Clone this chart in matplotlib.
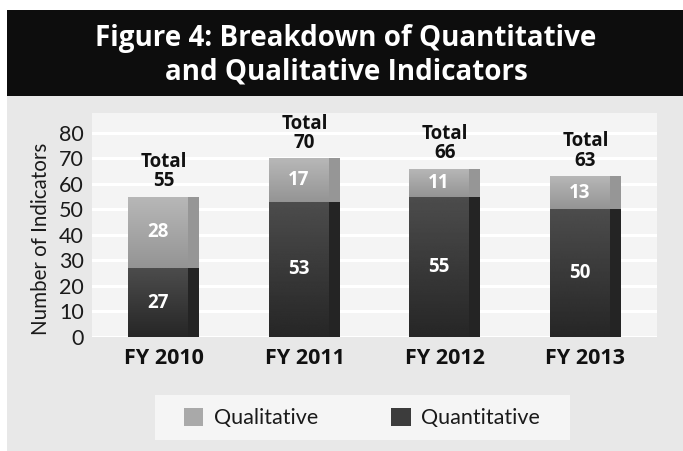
import matplotlib.pyplot as plt
from matplotlib.patches import Rectangle
import numpy as np

# ---------- data ----------
years = ["FY 2010", "FY 2011", "FY 2012", "FY 2013"]
quantitative = [27, 53, 55, 50]
qualitative = [28, 17, 11, 13]
totals = [55, 70, 66, 63]
yticks = [0, 10, 20, 30, 40, 50, 60, 70, 80]

plt.rcParams['font.family'] = ['Open Sans', 'DejaVu Sans']
light_font = ["Lato", "DejaVu Sans"]

W, H = 683, 451
fig = plt.figure(figsize=(W / 100, H / 100), dpi=100)
fig.patch.set_facecolor("white")

# background panels
fig.patches.append(Rectangle((7 / W, 0), 1 - 7 / W, 1 - 96 / H,
                             transform=fig.transFigure, facecolor="#e8e8e8",
                             edgecolor="none", zorder=-2))
fig.patches.append(Rectangle((7 / W, 1 - 96 / H), 1 - 7 / W, 86 / H,
                             transform=fig.transFigure, facecolor="#0d0d0d",
                             edgecolor="none", zorder=-2))
# legend box
fig.patches.append(Rectangle((155 / W, 1 - 440 / H), 415 / W, 45 / H,
                             transform=fig.transFigure, facecolor="#f5f5f5",
                             edgecolor="none", zorder=-1))
fig.text(346 / W, 1 - 55 / H,
         "Figure 4: Breakdown of Quantitative\nand Qualitative Indicators",
         ha="center", va="center", color="white", fontsize=20,
         fontweight="bold", linespacing=1.2)

ax = fig.add_axes([92 / W, 1 - 337 / H, (657 - 92) / W, (337 - 113) / H])
ax.set_facecolor("#f4f4f4")
ax.yaxis.grid(True, color="white", linewidth=2.2)
ax.set_axisbelow(True)
for s in ax.spines.values():
    s.set_visible(False)
ax.tick_params(length=0)

x = np.arange(len(years))
w = 0.505
strip = 0.085

q_main = ax.bar(x, quantitative, w, color="#3c3c3c", label="Quantitative")
ax.bar(x + w / 2 - strip, quantitative, strip, align="edge", color="#242424")
l_main = ax.bar(x, qualitative, w, bottom=quantitative, color="#a9a9a9",
                label="Qualitative")
ax.bar(x + w / 2 - strip, qualitative, strip, bottom=quantitative,
       align="edge", color="#969696")

# gradient shading on each bar
grad = np.linspace(0, 1, 256).reshape(-1, 1)
for bars, c_top, c_bot in [(q_main, 0.30, 0.15), (l_main, 0.72, 0.58)]:
    for p in bars:
        bx, by = p.get_x(), p.get_y()
        bw, bh = p.get_width() - strip, p.get_height()
        vals = c_bot + (c_top - c_bot) * grad
        im = ax.imshow(vals, cmap="gray", vmin=0, vmax=1, aspect="auto",
                       extent=(bx, bx + bw, by, by + bh), origin="lower",
                       zorder=2.1)
        im.set_clip_path(p)
ax.set_xlim(-0.512, 3.509)
ax.set_ylim(0, 87.8)
ax.set_yticks(yticks)

cx = x - strip / 2
for i in range(len(years)):
    ax.text(cx[i], quantitative[i] / 2, str(quantitative[i]), ha="center",
            va="center", color="white", fontsize=13.5, fontweight="bold", zorder=3)
    ax.text(cx[i], quantitative[i] + qualitative[i] / 2, str(qualitative[i]),
            ha="center", va="center", color="white", fontsize=13.5,
            fontweight="bold", zorder=3)
    ax.text(x[i], totals[i] + 2.2, "Total\n" + str(totals[i]), ha="center",
            va="bottom", color="#111111", fontsize=13.5, fontweight="bold",
            linespacing=0.95, zorder=3)

ax.set_xticks(x)
ax.set_xticklabels(years, fontsize=15.5, fontweight="bold", color="#111111")
ax.tick_params(axis="x", pad=8)
ax.set_yticklabels([str(v) for v in yticks], fontsize=15.5, color="#1a1a1a",
                   fontfamily=light_font)
ax.tick_params(axis="y", pad=6)
ax.set_ylabel("Number of Indicators", fontsize=14.8, color="#1a1a1a",
              fontfamily=light_font)
ax.yaxis.set_label_coords(-0.072, 0.44)

leg = fig.legend(handles=[l_main, q_main], labels=["Qualitative", "Quantitative"],
                 loc="center", ncol=2, bbox_to_anchor=(362 / W, 1 - 418 / H),
                 frameon=False, borderpad=0, columnspacing=3.4,
                 handlelength=0.9, handleheight=0.9, handletextpad=0.5,
                 prop={"family": light_font, "size": 15.5})
for t in leg.get_texts():
    t.set_color("#1a1a1a")

fig.savefig("out.png", dpi=100)
